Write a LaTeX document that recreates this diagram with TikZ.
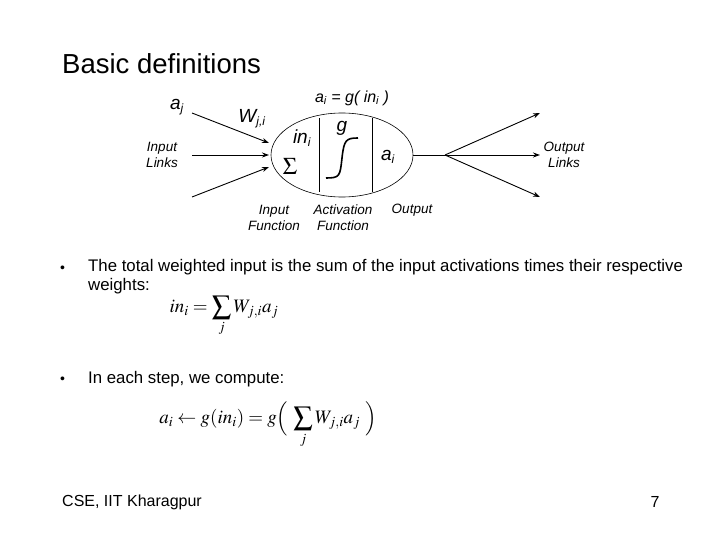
\documentclass[tikz,border=0pt]{standalone}
\usepackage{mathptmx}
\usepackage[no-math]{fontspec}
\setmainfont{Liberation Sans}
\usetikzlibrary{arrows.meta,shapes.geometric}
\begin{document}
\begin{tikzpicture}[x=1pt,y=-1pt,
  lab/.style={font=\fontsize{13.5}{16}\selectfont\itshape,align=center,inner sep=0},
  var/.style={font=\fontsize{19}{21}\selectfont\itshape,inner sep=0},
  arr/.style={-{Stealth[length=7pt,width=5pt]},line width=0.9pt},
  body/.style={font=\fontsize{16.8}{19}\selectfont,anchor=base west,align=left,inner sep=0}]
\useasboundingbox (0,0) rectangle (720,540);
\node[anchor=west,inner sep=0,font=\fontsize{27.5}{30}\selectfont] (title) at (62,64) {Basic definitions};
% neuron
\node[draw,ellipse,minimum width=142,minimum height=84,line width=0.6pt] (cell) at (342,155) {};
\draw[line width=0.6pt] (319,118) coordinate (l1a) -- (319,192) coordinate (l1b);
\draw[line width=0.6pt] (372,118) coordinate (l2a) -- (372,192) coordinate (l2b);
\coordinate (i1) at (192,113); \coordinate (i2) at (192,155); \coordinate (i3) at (192,197);
\coordinate (t1) at (269,143); \coordinate (t2) at (269,155); \coordinate (t3) at (269,167);
\draw[arr] (i1) -- (t1); \draw[arr] (i2) -- (t2); \draw[arr] (i3) -- (t3);
\coordinate (oe) at (413,155); \coordinate (fork) at (445,155);
\coordinate (o1) at (540,113); \coordinate (o2) at (540,155); \coordinate (o3) at (540,197);
\draw[line width=0.9pt] (oe) -- (fork);
\draw[arr] (fork) -- (o1); \draw[arr] (fork) -- (o2); \draw[arr] (fork) -- (o3);
\draw[line width=1.6pt] (326,178) .. controls (340,178) and (340,176) .. (342,158) .. controls (344,140) and (346,138) .. (358,138);
\node[var] (aj) at (177,107) {a\textsubscript{\fontsize{12}{12}\selectfont j}};
\node[var] (wji) at (252,119) {W\textsubscript{\fontsize{12}{12}\selectfont j,i}};
\node[var] (ini) at (302,138) {in\textsubscript{\fontsize{12}{12}\selectfont i}};
\node[inner sep=0,font=\fontsize{24}{24}\selectfont] (sig) at (290,166) {$\Sigma$};
\node[var] (g) at (342,128) {g};
\node[var] (ai) at (388,157) {a\textsubscript{\fontsize{12}{12}\selectfont i}};
\node[var,font=\fontsize{16}{18}\selectfont\itshape] (eq) at (352,98) {a\textsubscript{\fontsize{11}{11}\selectfont i} = g( in\textsubscript{\fontsize{11}{11}\selectfont i} )};
\node[lab] (il) at (162,155) {Input\\Links};
\node[lab] (ol) at (564,155) {Output\\Links};
\node[lab] (if) at (274,218) {Input\\Function};
\node[lab] (af) at (343,218) {Activation\\Function};
\node[lab] (out) at (412,210) {Output};
% bullets
\node[body,font=\fontsize{14}{19}\selectfont] (b1) at (60,272) {•};
\node[body,anchor=north west] (t1x) at (88,259) {The total weighted input is the sum of the input activations times their respective\\weights:};
\node[inner sep=0,font=\fontsize{19}{19}\selectfont] (f1) at (224,316) {$\displaystyle in_i = \sum_j W_{j,i}a_j$};
\node[body,font=\fontsize{14}{19}\selectfont] (b2) at (60,383) {•};
\node[body] (t2x) at (88,383) {In each step, we compute:};
\node[inner sep=0,font=\fontsize{19}{19}\selectfont] (f2) at (268,425) {$\displaystyle a_i \leftarrow g(in_i) = g\Bigl(\ \sum_j W_{j,i}a_j\ \Bigr)$};
\node[anchor=west,inner sep=0,font=\fontsize{16}{18}\selectfont] (foot) at (62,502) {CSE, IIT Kharagpur};
\node[inner sep=0,font=\fontsize{16}{18}\selectfont] (pg) at (655,502) {7};
\end{tikzpicture}
\end{document}
